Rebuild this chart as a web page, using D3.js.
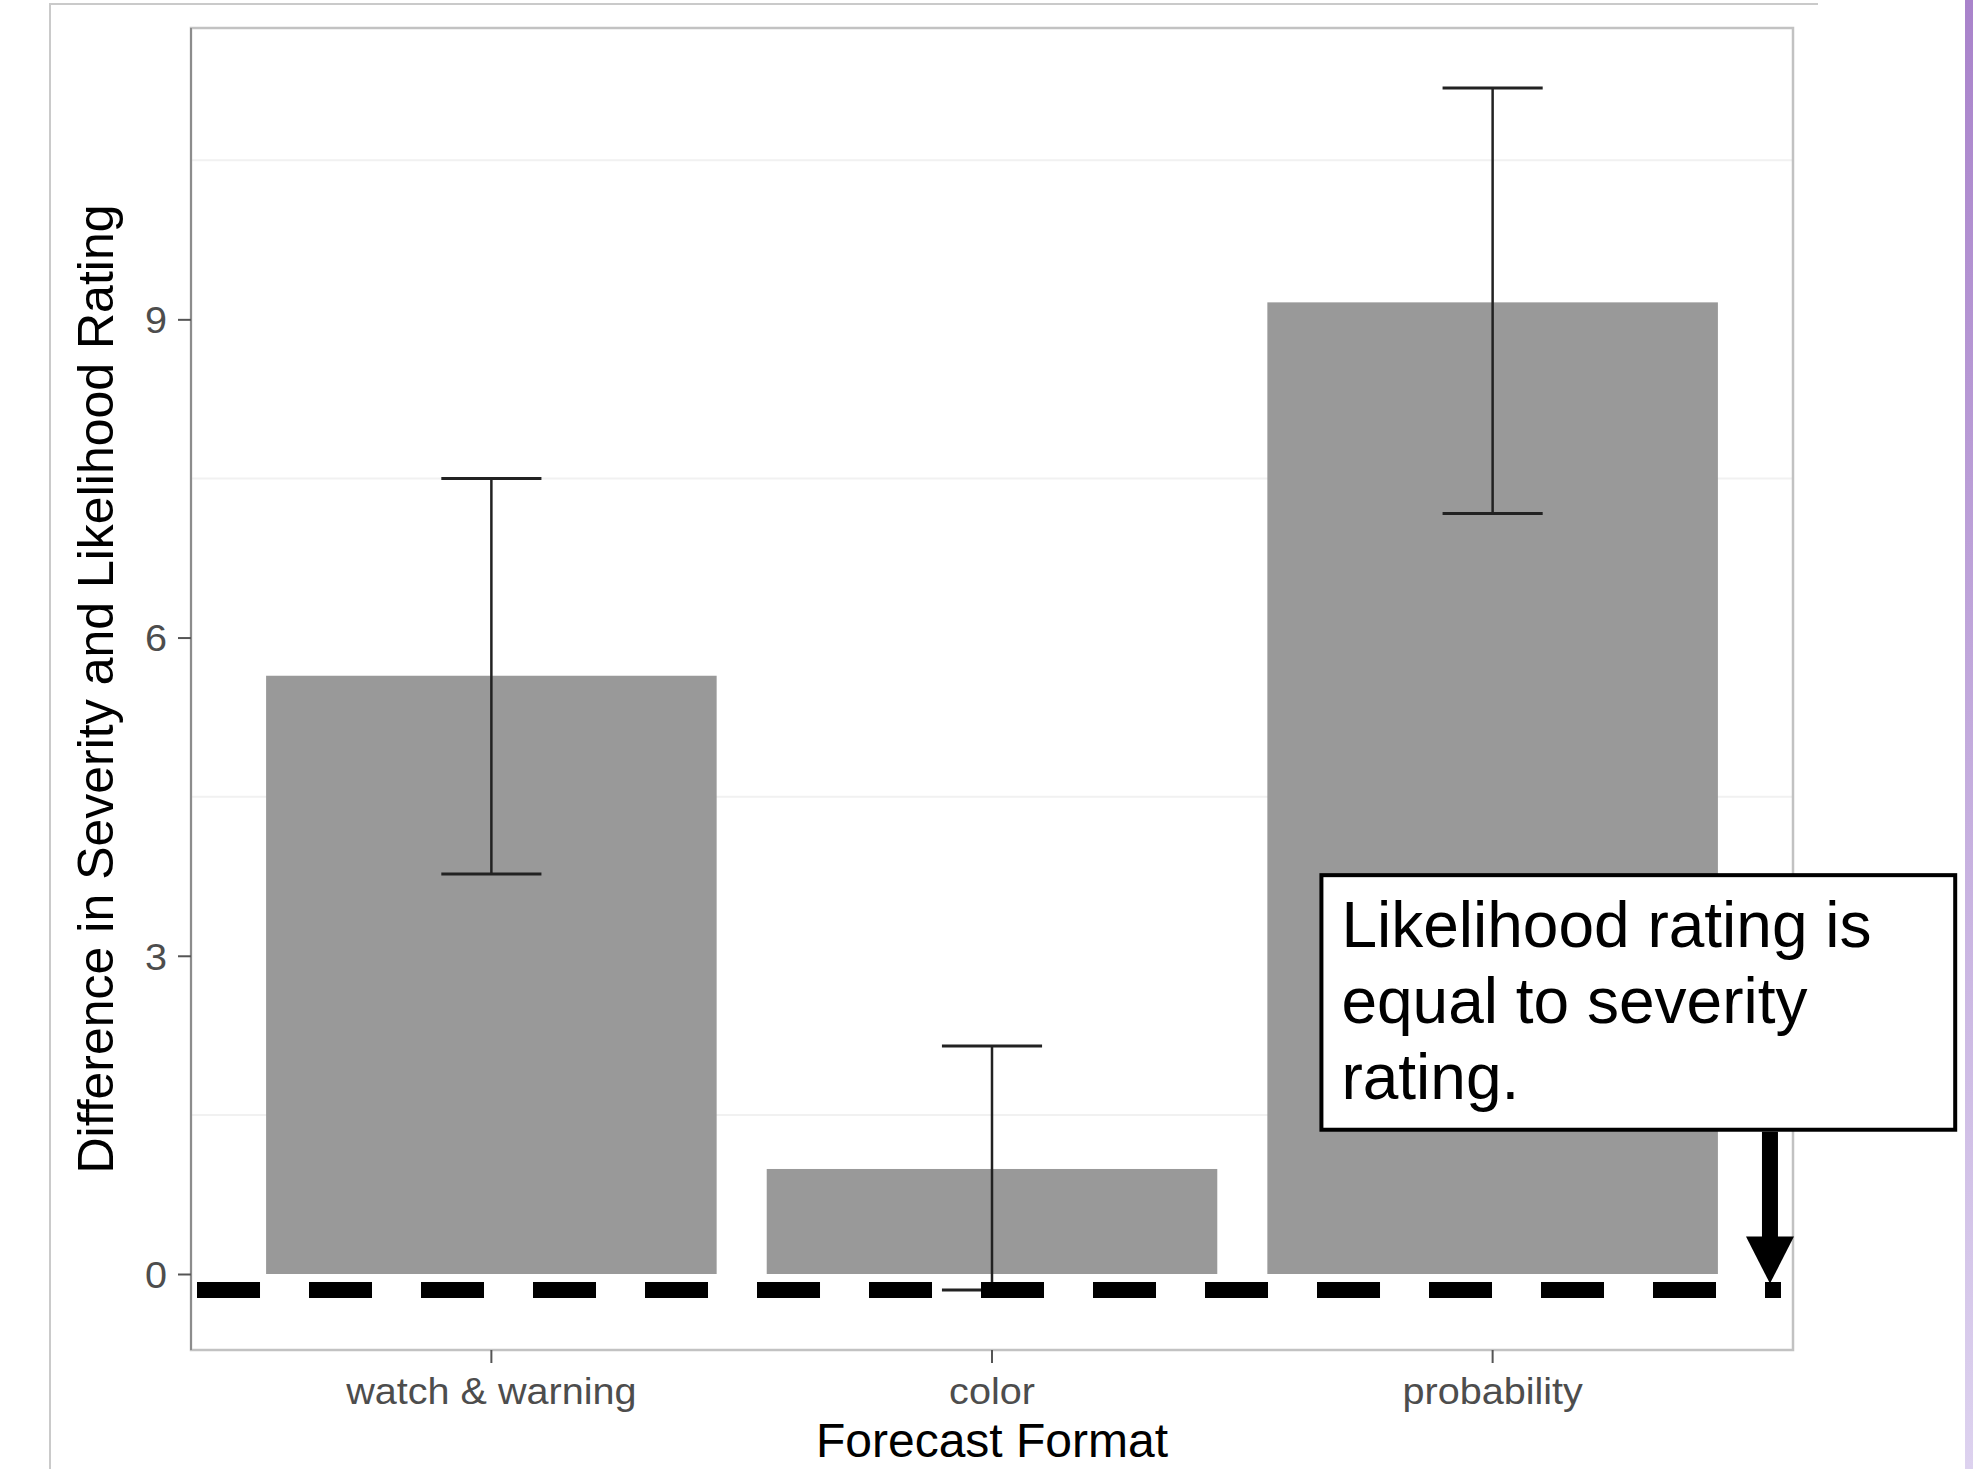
<!DOCTYPE html>
<html>
<head>
<meta charset="utf-8">
<script src="https://cdn.jsdelivr.net/npm/d3@7"></script>
<style>
  body { margin: 0; background: #fff; }
  svg { display: block; }
  text { font-family: "Liberation Sans", Arial, sans-serif; }
</style>
</head>
<body>
<svg id="drawing_region"></svg>
<script>
// data
const categories = ["watch & warning", "color", "probability"];
const means = [5.64, 0.99, 9.16];
const upper = [7.50, 2.15, 11.18];
const lower = [3.77, -0.15, 7.17];
const yTicks = [0, 3, 6, 9];
const minorTicks = [1.5, 4.5, 7.5, 10.5];
const noteLines = ["Likelihood rating is", "equal to severity", "rating."];
const refValue = -0.15;

const W = 1973, H = 1469;
const panel = { left: 191, right: 1793, top: 28, bottom: 1350 };

const svg = d3.select("#drawing_region")
    .attr("width", W)
    .attr("height", H);

svg.append("rect").attr("width", W).attr("height", H).attr("fill", "#fff");

// slide frame + purple strip on the right
const grad = svg.append("defs").append("linearGradient")
    .attr("id", "strip").attr("x1", 0).attr("x2", 0).attr("y1", 0).attr("y2", 1);
grad.append("stop").attr("offset", "0%").attr("stop-color", "#a983cb");
grad.append("stop").attr("offset", "100%").attr("stop-color", "#ddd2ef");
svg.append("rect").attr("x", 1965).attr("y", 0).attr("width", 8).attr("height", H)
    .attr("fill", "url(#strip)");
svg.append("path").attr("d", `M50,${H} V4 H1818`)
    .attr("fill", "none").attr("stroke", "#cacaca").attr("stroke-width", 2);

// scales (ggplot style expansion)
const lo = d3.min(lower), hi = d3.max(upper);
const pad = (hi - lo) * 0.05;
const y = d3.scaleLinear().domain([lo - pad, hi + pad]).range([panel.bottom, panel.top]);
const x = d3.scaleBand().domain(categories)
    .range([panel.left, panel.right])
    .paddingInner(0.1).paddingOuter(0.15);
// continuous version of the discrete axis, for annotations
const xc = d3.scaleLinear().domain([0.4, categories.length + 0.6]).range([panel.left, panel.right]);

const rows = categories.map((c, i) => ({ cat: c, mean: means[i], up: upper[i], low: lower[i] }));

// minor grid
svg.append("g").selectAll("line")
    .data(minorTicks)
    .join("line")
    .attr("x1", panel.left).attr("x2", panel.right)
    .attr("y1", d => y(d)).attr("y2", d => y(d))
    .attr("stroke", "#f1f1f1").attr("stroke-width", 2);

// bars
svg.append("g").selectAll("rect")
    .data(rows)
    .join("rect")
    .attr("x", d => x(d.cat))
    .attr("width", x.bandwidth())
    .attr("y", d => y(Math.max(0, d.mean)))
    .attr("height", d => Math.abs(y(d.mean) - y(0)))
    .attr("fill", "#999999");

// error bars
const capW = x.step() * 0.2;
const eb = svg.append("g").attr("stroke", "#222").attr("fill", "none");
rows.forEach(d => {
    const cx = x(d.cat) + x.bandwidth() / 2;
    eb.append("line").attr("x1", cx).attr("x2", cx)
        .attr("y1", y(d.up)).attr("y2", y(d.low)).attr("stroke-width", 2.5);
    [d.up, d.low].forEach(v => {
        eb.append("line").attr("x1", cx - capW / 2).attr("x2", cx + capW / 2)
            .attr("y1", y(v)).attr("y2", y(v)).attr("stroke-width", 3);
    });
});

// panel border
svg.append("rect")
    .attr("x", panel.left).attr("y", panel.top)
    .attr("width", panel.right - panel.left).attr("height", panel.bottom - panel.top)
    .attr("fill", "none").attr("stroke", "#c2c2c2").attr("stroke-width", 2.5);
svg.append("line").attr("x1", panel.left).attr("x2", panel.left)
    .attr("y1", panel.top).attr("y2", panel.bottom)
    .attr("stroke", "#8c8c8c").attr("stroke-width", 2);

// axes
const yAxis = svg.append("g")
    .attr("transform", `translate(${panel.left},0)`)
    .call(d3.axisLeft(y).tickValues(yTicks).tickSize(13).tickPadding(11));
yAxis.select(".domain").remove();
yAxis.selectAll(".tick line").attr("stroke", "#555").attr("stroke-width", 2);
yAxis.selectAll(".tick text")
    .attr("fill", "#4d4d4d").attr("font-size", 37)
    .attr("font-family", "Liberation Sans, Arial, sans-serif")
    .attr("x", -24 / 1.07).attr("dy", "0.36em")
    .attr("transform", "scale(1.07,1)");

const xAxis = svg.append("g")
    .attr("transform", `translate(0,${panel.bottom})`)
    .call(d3.axisBottom(x).tickSize(13).tickPadding(8));
xAxis.select(".domain").remove();
xAxis.selectAll(".tick line").attr("stroke", "#555").attr("stroke-width", 2);
xAxis.selectAll(".tick text")
    .attr("fill", "#4d4d4d").attr("font-size", 37)
    .attr("font-family", "Liberation Sans, Arial, sans-serif")
    .attr("dy", null).attr("y", 54)
    .attr("transform", "scale(1.07,1)");

// axis titles
svg.append("text")
    .attr("x", (panel.left + panel.right) / 2).attr("y", 1457)
    .attr("text-anchor", "middle").attr("font-size", 48).attr("fill", "#000")
    .text("Forecast Format");
svg.append("text")
    .attr("transform", `translate(113,${(panel.top + panel.bottom) / 2}) rotate(-90)`)
    .attr("text-anchor", "middle").attr("font-size", 50).attr("fill", "#000")
    .text("Difference in Severity and Likelihood Rating");

// reference dashed line
svg.append("line")
    .attr("x1", xc(0.412)).attr("x2", xc(3.576))
    .attr("y1", y(refValue)).attr("y2", y(refValue))
    .attr("stroke", "#000").attr("stroke-width", 16)
    .attr("stroke-dasharray", "63,49");

// annotation box
const box = { x0: xc(2.658), x1: xc(3.924), y0: y(3.76), y1: y(1.36) };
svg.append("rect")
    .attr("x", box.x0).attr("y", box.y0)
    .attr("width", box.x1 - box.x0).attr("height", box.y1 - box.y0)
    .attr("fill", "#fff").attr("stroke", "#000").attr("stroke-width", 4);
svg.append("g").selectAll("text")
    .data(noteLines)
    .join("text")
    .attr("x", box.x0 + 20)
    .attr("y", (d, i) => box.y0 + 72 + i * 76)
    .attr("font-size", 64).attr("fill", "#000")
    .text(d => d);

// arrow
const ax = xc(3.554);
const tipY = y(-0.09), shaftTop = y(1.34), headH = 47, headW = 48;
svg.append("line")
    .attr("x1", ax).attr("x2", ax)
    .attr("y1", shaftTop).attr("y2", tipY - headH + 2)
    .attr("stroke", "#000").attr("stroke-width", 16);
svg.append("path")
    .attr("d", `M${ax - headW / 2},${tipY - headH} L${ax + headW / 2},${tipY - headH} L${ax},${tipY} Z`)
    .attr("fill", "#000");
</script>
</body>
</html>
